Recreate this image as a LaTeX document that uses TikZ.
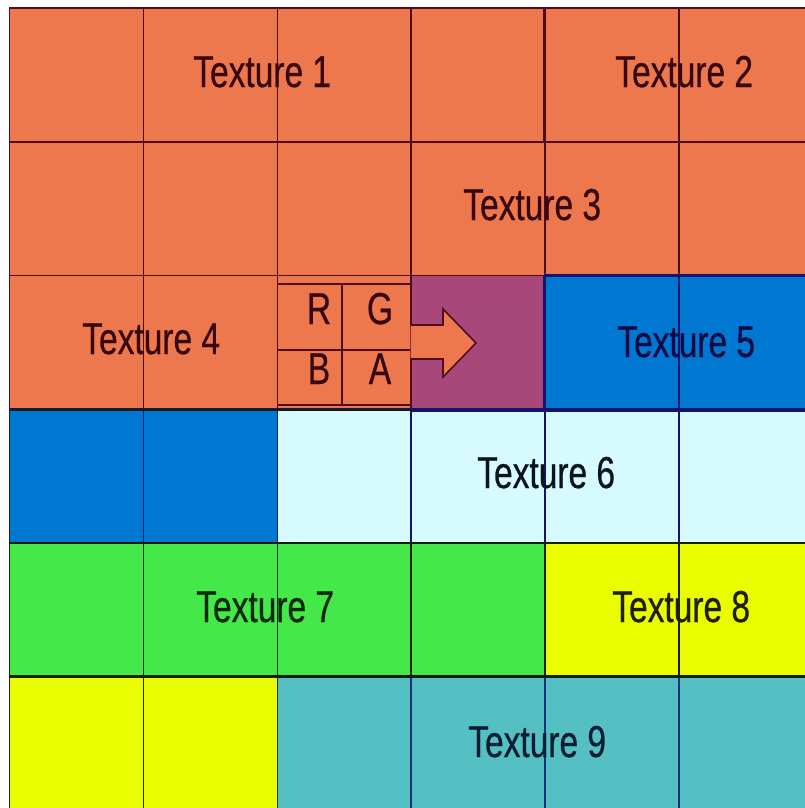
\documentclass[tikz,border=0pt]{standalone}
\usepackage{fontspec}
\setmainfont{Liberation Sans}[FakeStretch=0.75,FakeBold=0.6]
\definecolor{corg}{RGB}{238,120,78}
\definecolor{cmag}{RGB}{168,72,122}
\definecolor{cblu}{RGB}{0,120,210}
\definecolor{ccya}{RGB}{215,250,255}
\definecolor{cgrn}{RGB}{68,232,72}
\definecolor{cyel}{RGB}{234,252,0}
\definecolor{ctea}{RGB}{85,192,196}
\definecolor{lorg}{RGB}{80,12,32}
\definecolor{lnav}{RGB}{20,20,110}
\definecolor{lblk}{RGB}{20,30,10}
\definecolor{ltea}{RGB}{20,50,120}
\definecolor{torg}{RGB}{55,8,16}
\definecolor{tblu}{RGB}{10,10,70}
\definecolor{tcya}{RGB}{10,20,30}
\definecolor{tgrn}{RGB}{10,40,10}
\definecolor{tyel}{RGB}{30,30,0}
\definecolor{ttea}{RGB}{10,30,50}
\newcommand\gridcell[3]{\filldraw[#3] ({9.5+133.9*#1},{8+133.7*#2}) rectangle ++(133.9,133.7);}
\begin{document}
\begin{tikzpicture}[x=0.75pt,y=-0.75pt,
  cellbase/.style={line width=1.2pt},
  org/.style={cellbase,fill=corg,draw=lorg},
  mag/.style={cellbase,fill=cmag,draw=lorg},
  blu/.style={cellbase,fill=cblu,draw=lnav},
  cya/.style={cellbase,fill=ccya,draw=lnav},
  grn/.style={cellbase,fill=cgrn,draw=lblk},
  yel/.style={cellbase,fill=cyel,draw=lblk},
  tea/.style={cellbase,fill=ctea,draw=ltea},
  lbl/.style={font=\fontsize{33.5}{40}\selectfont,anchor=base west,inner sep=0pt},
  rgba/.style={font=\fontsize{33.5}{40}\selectfont,anchor=base,inner sep=0pt,text=torg},
  thickline/.style={line width=2.3pt}]
\useasboundingbox (0,0) rectangle (805,808);
\clip (0,0) rectangle (805,808);
\fill[white] (0,0) rectangle (805,808);
% row 0 and 1
\foreach \c in {0,...,5}{\gridcell{\c}{0}{org}\gridcell{\c}{1}{org}}
% row 2
\gridcell{0}{2}{org}\gridcell{1}{2}{org}\gridcell{2}{2}{org}
\gridcell{3}{2}{mag}
\gridcell{4}{2}{blu}\gridcell{5}{2}{blu}
% row 3
\gridcell{0}{3}{blu}\gridcell{1}{3}{blu}
\foreach \c in {2,...,5}{\gridcell{\c}{3}{cya}}
% row 4
\foreach \c in {0,...,3}{\gridcell{\c}{4}{grn}}
\gridcell{4}{4}{yel}\gridcell{5}{4}{yel}
% row 5
\gridcell{0}{5}{yel}\gridcell{1}{5}{yel}
\foreach \c in {2,...,5}{\gridcell{\c}{5}{tea}}
% texture borders
\draw[thickline,lorg] (544.5,8) -- (544.5,141.5);
\draw[thickline,lnav] (544.5,275.5) -- (813,275.5);
\draw[thickline,lnav] (544.5,275.5) -- (544.5,410);
\draw[thickline,lnav] (410.5,410) -- (813,410);
\draw[line width=1.6pt,lblk] (9.5,410) -- (410.5,410);
\draw[thickline,lblk] (9.5,676.5) -- (813,676.5);
% RGBA block
\draw[line width=1.2pt,lorg] (277,284) -- (410.5,284) (277,350) -- (410.5,350) (277,405) -- (410.5,405) (342,284) -- (342,405);
\node[rgba] (r) at (319,324) {R};
\node[rgba] (g) at (380,324) {G};
\node[rgba] (b) at (319,384) {B};
\node[rgba] (a) at (380,384) {A};
% arrow
\fill[corg] (410.5,325) -- (443,325) -- (443,309) -- (476,343) -- (443,377) -- (443,359) -- (410.5,359) -- cycle;
\draw[line width=1.2pt,lorg,line join=miter] (410.5,325) -- (443,325) -- (443,309) -- (476,343) -- (443,377) -- (443,359) -- (410.5,359);
% labels
\node[lbl,text=torg] (t1) at (193,87) {Texture 1};
\node[lbl,text=torg] (t2) at (615,87) {Texture 2};
\node[lbl,text=torg] (t3) at (463,220) {Texture 3};
\node[lbl,text=torg] (t4) at (82,354) {Texture 4};
\node[lbl,text=tblu] (t5) at (617,357) {Texture 5};
\node[lbl,text=tcya] (t6) at (477,488) {Texture 6};
\node[lbl,text=tgrn] (t7) at (196,622) {Texture 7};
\node[lbl,text=tyel] (t8) at (612,622) {Texture 8};
\node[lbl,text=ttea] (t9) at (468,757) {Texture 9};
\end{tikzpicture}
\end{document}
